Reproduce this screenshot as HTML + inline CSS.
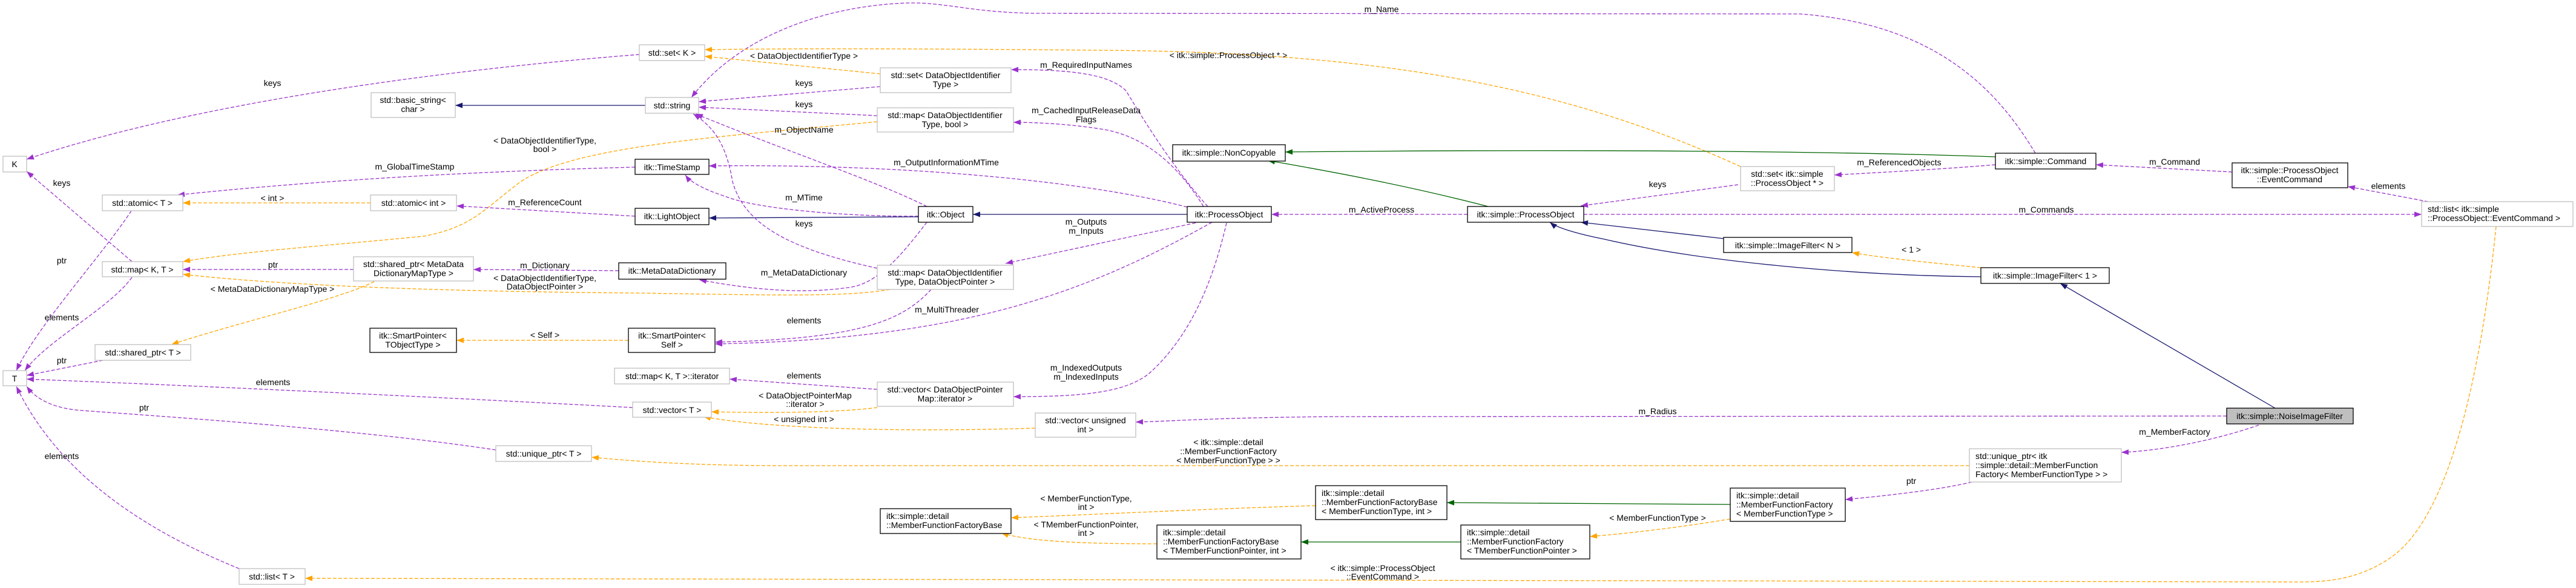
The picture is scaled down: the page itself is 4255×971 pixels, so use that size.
<!DOCTYPE html>
<html><head><meta charset="utf-8">
<style>
html,body{margin:0;padding:0;background:#fff;}
svg{display:block;}
text{font-family:"Liberation Sans",Helvetica,Arial,sans-serif;font-size:14px;fill:#000;}
.lbl{text-anchor:middle;}
.c{text-anchor:middle;}
.nb{fill:#fff;stroke:#000;stroke-width:1.3;}
.ng{fill:#fff;stroke:#bfbfbf;stroke-width:1.3;}
.p{fill:none;stroke:#9a32cd;stroke-width:1.3;stroke-dasharray:6,3;}
.o{fill:none;stroke:#ffa500;stroke-width:1.3;stroke-dasharray:6,3;}
.n{fill:none;stroke:#191970;stroke-width:1.3;}
.g{fill:none;stroke:#006400;stroke-width:1.3;}
</style></head><body>
<svg width="4255" height="971" viewBox="0 0 4255 971" xmlns="http://www.w3.org/2000/svg">
<defs>
<marker id="mp" viewBox="0 0 12 10" refX="12" refY="5" markerWidth="12" markerHeight="10" markerUnits="userSpaceOnUse" orient="auto"><path d="M0,0.5 L12,5 L0,9.5z" fill="#9a32cd"/></marker>
<marker id="mo" viewBox="0 0 12 10" refX="12" refY="5" markerWidth="12" markerHeight="10" markerUnits="userSpaceOnUse" orient="auto"><path d="M0,0.5 L12,5 L0,9.5z" fill="#ffa500"/></marker>
<marker id="mn" viewBox="0 0 12 10" refX="12" refY="5" markerWidth="12" markerHeight="10" markerUnits="userSpaceOnUse" orient="auto"><path d="M0,0.5 L12,5 L0,9.5z" fill="#191970"/></marker>
<marker id="mg" viewBox="0 0 12 10" refX="12" refY="5" markerWidth="12" markerHeight="10" markerUnits="userSpaceOnUse" orient="auto"><path d="M0,0.5 L12,5 L0,9.5z" fill="#006400"/></marker>
</defs>

<!-- edges -->
<path class="p" marker-end="url(#mp)" d="M1056,90 C800,110 350,160 44,263"/>
<path class="p" marker-end="url(#mp)" d="M3362,253 C3300,150 3200,40 2973,23 L1708,22 C1600,20 1560,3 1497,5 C1360,10 1220,60 1142,161"/>
<path class="n" marker-end="url(#mn)" d="M1066,174 L752,174"/>
<path class="o" marker-end="url(#mo)" d="M1454,122 L1164,93"/>
<path class="o" marker-end="url(#mo)" d="M2875,275 C2600,150 2300,85 1811,83 C1500,80 1300,80 1164,82"/>
<path class="p" marker-end="url(#mp)" d="M1454,143 L1154,168"/>
<path class="p" marker-end="url(#mp)" d="M1449,191 L1154,177"/>
<path class="o" marker-end="url(#mo)" d="M1449,201 C1200,225 950,240 860,300 C800,345 780,375 700,390 C550,405 400,415 302,432"/>
<path class="p" marker-end="url(#mp)" d="M1995,341 C1940,280 1890,200 1860,150 C1830,120 1760,115 1670,115"/>
<path class="p" marker-end="url(#mp)" d="M1988,341 C1950,280 1900,230 1830,215 C1780,206 1720,202 1674,202"/>
<path class="p" marker-end="url(#mp)" d="M1961,342 C1800,300 1500,270 1171,274"/>
<path class="p" marker-end="url(#mp)" d="M1531,341 C1450,300 1300,250 1149,188"/>
<path class="p" marker-end="url(#mp)" d="M1517,357 C1400,358 1250,345 1200,325 C1160,312 1140,300 1132,289"/>
<path class="n" marker-end="url(#mn)" d="M1517,358 L1171,360"/>
<path class="n" marker-end="url(#mn)" d="M1961,354 L1607,354"/>
<path class="p" marker-end="url(#mp)" d="M1449,443 C1300,410 1230,370 1210,300 C1200,240 1180,210 1145,188"/>
<path class="p" marker-end="url(#mp)" d="M1531,367 C1490,420 1450,470 1400,475 C1330,485 1250,480 1155,462"/>
<path class="o" marker-end="url(#mo)" d="M1470,478 C1400,490 1300,488 1060,484 C800,482 500,475 302,453"/>
<path class="p" marker-end="url(#mp)" d="M1975,368 L1661,435"/>
<path class="p" marker-end="url(#mp)" d="M1049,357 L754,340"/>
<path class="o" marker-end="url(#mo)" d="M612,335 L302,335"/>
<path class="p" marker-end="url(#mp)" d="M1049,276 C900,280 600,290 293,322"/>
<path class="p" marker-end="url(#mp)" d="M1022,447 L782,445"/>
<path class="p" marker-end="url(#mp)" d="M584,445 L302,445"/>
<path class="o" marker-end="url(#mo)" d="M618,465 C560,495 400,530 283,569"/>
<path class="p" marker-end="url(#mp)" d="M218,432 L44,283"/>
<path class="p" marker-end="url(#mp)" d="M218,458 C180,510 80,560 41,612"/>
<path class="p" marker-end="url(#mp)" d="M217,348 C170,420 60,540 27,612"/>
<path class="p" marker-end="url(#mp)" d="M170,595 L44,620"/>
<path class="p" marker-end="url(#mp)" d="M1045,673 C800,660 400,640 44,626"/>
<path class="p" marker-end="url(#mp)" d="M819,743 C600,710 300,690 137,678 C90,675 60,660 44,638"/>
<path class="p" marker-end="url(#mp)" d="M395,939 C250,880 100,790 27,638"/>
<path class="o" marker-end="url(#mo)" d="M1038,562 L754,562"/>
<path class="p" marker-end="url(#mp)" d="M1538,478 C1490,530 1420,560 1181,565"/>
<path class="p" marker-end="url(#mp)" d="M2002,367 C1800,480 1600,560 1181,568"/>
<path class="p" marker-end="url(#mp)" d="M1449,643 L1205,626"/>
<path class="o" marker-end="url(#mo)" d="M1449,673 C1380,682 1260,682 1175,680"/>
<path class="o" marker-end="url(#mo)" d="M1710,707 C1450,715 1250,705 1162,688"/>
<path class="p" marker-end="url(#mp)" d="M2026,368 C2000,480 1960,560 1900,615 C1860,650 1780,655 1674,655"/>
<path class="p" marker-end="url(#mp)" d="M3678,687 L2200,688 C2000,690 1950,695 1876,697"/>
<path class="o" marker-end="url(#mo)" d="M3253,769 L1300,769 C1150,769 1050,762 977,755"/>
<path class="p" marker-end="url(#mp)" d="M3731,702 C3650,730 3560,745 3504,747"/>
<path class="p" marker-end="url(#mp)" d="M3257,796 C3200,810 3100,820 3048,825"/>
<path class="g" marker-end="url(#mg)" d="M2858,833 L2390,830"/>
<path class="o" marker-end="url(#mo)" d="M2173,835 C2000,840 1800,850 1670,855"/>
<path class="o" marker-end="url(#mo)" d="M1911,898 C1800,898 1700,895 1654,880"/>
<path class="g" marker-end="url(#mg)" d="M2413,895 L2149,895"/>
<path class="o" marker-end="url(#mo)" d="M2858,857 C2780,870 2700,880 2626,886"/>
<path class="o" marker-end="url(#mo)" d="M4123,374 C4100,600 4050,850 3950,920 C3900,955 3850,961 3799,961 L504,955"/>
<path class="p" marker-end="url(#mp)" d="M2616,354 L4000,354"/>
<path class="p" marker-end="url(#mp)" d="M3687,284 L3462,272"/>
<path class="p" marker-end="url(#mp)" d="M4011,333 L3878,308"/>
<path class="p" marker-end="url(#mp)" d="M3296,272 C3200,280 3100,285 3030,289"/>
<path class="p" marker-end="url(#mp)" d="M2871,305 L2611,340"/>
<path class="g" marker-end="url(#mg)" d="M3296,259 C3100,252 2700,245 2123,251"/>
<path class="g" marker-end="url(#mg)" d="M2458,341 C2300,300 2150,275 2094,265"/>
<path class="p" marker-end="url(#mp)" d="M2424,354 L2100,354"/>
<path class="n" marker-end="url(#mn)" d="M2847,394 L2611,367"/>
<path class="n" marker-end="url(#mn)" d="M3272,457 C3050,455 2800,430 2650,395 C2600,385 2570,375 2560,367"/>
<path class="o" marker-end="url(#mo)" d="M3272,442 C3200,435 3100,425 3059,417"/>
<path class="n" marker-end="url(#mn)" d="M3758,674 L3403,468"/>

<!-- edge labels -->
<g class="lbl">
<text class="c" x="450" y="142">keys</text>
<text class="c" x="2282" y="20">m_Name</text>
<text class="c" x="102" y="307">keys</text>
<text class="c" x="900" y="237">&lt; DataObjectIdentifierType,</text>
<text class="c" x="900" y="251">bool &gt;</text>
<text class="c" x="685" y="280">m_GlobalTimeStamp</text>
<text class="c" x="450" y="332">&lt; int &gt;</text>
<text class="c" x="900" y="339">m_ReferenceCount</text>
<text class="c" x="451" y="442">ptr</text>
<text class="c" x="102" y="435">ptr</text>
<text class="c" x="900" y="443">m_Dictionary</text>
<text class="c" x="900" y="464">&lt; DataObjectIdentifierType,</text>
<text class="c" x="900" y="478">DataObjectPointer &gt;</text>
<text class="c" x="450" y="482">&lt; MetaDataDictionaryMapType &gt;</text>
<text class="c" x="102" y="529">elements</text>
<text class="c" x="900" y="558">&lt; Self &gt;</text>
<text class="c" x="102" y="600">ptr</text>
<text class="c" x="451" y="636">elements</text>
<text class="c" x="238" y="678">ptr</text>
<text class="c" x="102" y="758">elements</text>
<text class="c" x="1328" y="97">&lt; DataObjectIdentifierType &gt;</text>
<text class="c" x="1794" y="112">m_RequiredInputNames</text>
<text class="c" x="1328" y="142">keys</text>
<text class="c" x="1328" y="177">keys</text>
<text class="c" x="1794" y="187">m_CachedInputReleaseData</text>
<text class="c" x="1794" y="202">Flags</text>
<text class="c" x="1328" y="219">m_ObjectName</text>
<text class="c" x="1563" y="273">m_OutputInformationMTime</text>
<text class="c" x="1328" y="331">m_MTime</text>
<text class="c" x="1328" y="374">keys</text>
<text class="c" x="1794" y="371">m_Outputs</text>
<text class="c" x="1794" y="386">m_Inputs</text>
<text class="c" x="1328" y="455">m_MetaDataDictionary</text>
<text class="c" x="1564" y="516">m_MultiThreader</text>
<text class="c" x="1328" y="534">elements</text>
<text class="c" x="1328" y="625">elements</text>
<text class="c" x="1330" y="658">&lt; DataObjectPointerMap</text>
<text class="c" x="1330" y="672">::iterator &gt;</text>
<text class="c" x="1328" y="697">&lt; unsigned int &gt;</text>
<text class="c" x="1794" y="612">m_IndexedOutputs</text>
<text class="c" x="1794" y="627">m_IndexedInputs</text>
<text class="c" x="2029" y="735">&lt; itk::simple::detail</text>
<text class="c" x="2029" y="750">::MemberFunctionFactory</text>
<text class="c" x="2029" y="765">&lt; MemberFunctionType &gt; &gt;</text>
<text class="c" x="1794" y="828">&lt; MemberFunctionType,</text>
<text class="c" x="1794" y="842">int &gt;</text>
<text class="c" x="1794" y="871">&lt; TMemberFunctionPointer,</text>
<text class="c" x="1794" y="885">int &gt;</text>
<text class="c" x="2029" y="96">&lt; itk::simple::ProcessObject * &gt;</text>
<text class="c" x="3137" y="273">m_ReferencedObjects</text>
<text class="c" x="2738" y="309">keys</text>
<text class="c" x="2282" y="351">m_ActiveProcess</text>
<text class="c" x="3157" y="417">&lt; 1 &gt;</text>
<text class="c" x="2738" y="684">m_Radius</text>
<text class="c" x="3157" y="799">ptr</text>
<text class="c" x="2738" y="860">&lt; MemberFunctionType &gt;</text>
<text class="c" x="2284" y="943">&lt; itk::simple::ProcessObject</text>
<text class="c" x="2284" y="957">::EventCommand &gt;</text>
<text class="c" x="3592" y="272">m_Command</text>
<text class="c" x="3945" y="312">elements</text>
<text class="c" x="3380" y="351">m_Commands</text>
<text class="c" x="3592" y="718">m_MemberFactory</text>
</g>

<!-- nodes: gray-border -->
<rect class="ng" x="1056" y="74" width="108" height="26"/><text class="c" x="1110" y="92">std::set&lt; K &gt;</text>
<rect class="ng" x="613" y="153" width="139" height="41"/><text class="c" x="682" y="170">std::basic_string&lt;</text><text class="c" x="682" y="185">char &gt;</text>
<rect class="ng" x="5" y="258" width="39" height="26"/><text class="c" x="24" y="276">K</text>
<rect class="ng" x="169" y="322" width="133" height="26"/><text class="c" x="235" y="340">std::atomic&lt; T &gt;</text>
<rect class="ng" x="612" y="322" width="142" height="26"/><text class="c" x="683" y="340">std::atomic&lt; int &gt;</text>
<rect class="ng" x="169" y="432" width="133" height="25"/><text class="c" x="235" y="450">std::map&lt; K, T &gt;</text>
<rect class="ng" x="584" y="424" width="198" height="40"/><text class="c" x="683" y="441">std::shared_ptr&lt; MetaData</text><text class="c" x="683" y="456">DictionaryMapType &gt;</text>
<rect class="ng" x="157" y="569" width="158" height="26"/><text class="c" x="236" y="587">std::shared_ptr&lt; T &gt;</text>
<rect class="ng" x="5" y="612" width="39" height="25"/><text class="c" x="24" y="630">T</text>
<rect class="ng" x="1015" y="608" width="190" height="26"/><text class="c" x="1110" y="626">std::map&lt; K, T &gt;::iterator</text>
<rect class="ng" x="1045" y="664" width="130" height="25"/><text class="c" x="1110" y="682">std::vector&lt; T &gt;</text>
<rect class="ng" x="819" y="736" width="158" height="26"/><text class="c" x="898" y="754">std::unique_ptr&lt; T &gt;</text>
<rect class="ng" x="395" y="939" width="109" height="26"/><text class="c" x="449" y="957">std::list&lt; T &gt;</text>
<rect class="ng" x="1454" y="112" width="216" height="41"/><text class="c" x="1562" y="129">std::set&lt; DataObjectIdentifier</text><text class="c" x="1562" y="144">Type &gt;</text>
<rect class="ng" x="1066" y="161" width="88" height="26"/><text class="c" x="1110" y="179">std::string</text>
<rect class="ng" x="1449" y="178" width="225" height="40"/><text class="c" x="1561" y="195">std::map&lt; DataObjectIdentifier</text><text class="c" x="1561" y="210">Type, bool &gt;</text>
<rect class="ng" x="1449" y="438" width="225" height="40"/><text class="c" x="1561" y="455">std::map&lt; DataObjectIdentifier</text><text class="c" x="1561" y="470">Type, DataObjectPointer &gt;</text>
<rect class="ng" x="1449" y="631" width="225" height="40"/><text class="c" x="1561" y="648">std::vector&lt; DataObjectPointer</text><text class="c" x="1561" y="663">Map::iterator &gt;</text>
<rect class="ng" x="1710" y="682" width="166" height="40"/><text class="c" x="1793" y="699">std::vector&lt; unsigned</text><text class="c" x="1793" y="714">int &gt;</text>
<rect class="ng" x="2875" y="275" width="155" height="40"/><text class="c" x="2952" y="292">std::set&lt; itk::simple</text><text class="c" x="2952" y="307">::ProcessObject * &gt;</text>
<rect class="ng" x="4000" y="333" width="250" height="41"/><text x="4010" y="350">std::list&lt; itk::simple</text><text x="4010" y="365">::ProcessObject::EventCommand &gt;</text>
<rect class="ng" x="3253" y="741" width="251" height="55"/><text x="3263" y="758">std::unique_ptr&lt; itk</text><text x="3263" y="773">::simple::detail::MemberFunction</text><text x="3263" y="788">Factory&lt; MemberFunctionType &gt; &gt;</text>

<!-- nodes: black-border -->
<rect class="nb" x="1049" y="263" width="122" height="25"/><text class="c" x="1110" y="281">itk::TimeStamp</text>
<rect class="nb" x="1049" y="344" width="122" height="27"/><text class="c" x="1110" y="362">itk::LightObject</text>
<rect class="nb" x="1022" y="434" width="177" height="27"/><text class="c" x="1110" y="452">itk::MetaDataDictionary</text>
<rect class="nb" x="611" y="542" width="143" height="40"/><text class="c" x="682" y="559">itk::SmartPointer&lt;</text><text class="c" x="682" y="574">TObjectType &gt;</text>
<rect class="nb" x="1038" y="542" width="143" height="40"/><text class="c" x="1110" y="559">itk::SmartPointer&lt;</text><text class="c" x="1110" y="574">Self &gt;</text>
<rect class="nb" x="1937" y="239" width="186" height="27"/><text class="c" x="2030" y="257">itk::simple::NonCopyable</text>
<rect class="nb" x="1517" y="341" width="90" height="26"/><text class="c" x="1562" y="359">itk::Object</text>
<rect class="nb" x="1961" y="341" width="139" height="26"/><text class="c" x="2030" y="359">itk::ProcessObject</text>
<rect class="nb" x="1454" y="840" width="216" height="41"/><text x="1464" y="857">itk::simple::detail</text><text x="1464" y="872">::MemberFunctionFactoryBase</text>
<rect class="nb" x="1911" y="867" width="238" height="56"/><text x="1921" y="884">itk::simple::detail</text><text x="1921" y="899">::MemberFunctionFactoryBase</text><text x="1921" y="914">&lt; TMemberFunctionPointer, int &gt;</text>
<rect class="nb" x="2424" y="341" width="192" height="26"/><text class="c" x="2520" y="359">itk::simple::ProcessObject</text>
<rect class="nb" x="2847" y="392" width="212" height="25"/><text class="c" x="2953" y="410">itk::simple::ImageFilter&lt; N &gt;</text>
<rect class="nb" x="2173" y="802" width="217" height="56"/><text x="2183" y="819">itk::simple::detail</text><text x="2183" y="834">::MemberFunctionFactoryBase</text><text x="2183" y="849">&lt; MemberFunctionType, int &gt;</text>
<rect class="nb" x="2858" y="806" width="190" height="55"/><text x="2868" y="823">itk::simple::detail</text><text x="2868" y="838">::MemberFunctionFactory</text><text x="2868" y="853">&lt; MemberFunctionType &gt;</text>
<rect class="nb" x="2413" y="867" width="213" height="56"/><text x="2423" y="884">itk::simple::detail</text><text x="2423" y="899">::MemberFunctionFactory</text><text x="2423" y="914">&lt; TMemberFunctionPointer &gt;</text>
<rect class="nb" x="3296" y="253" width="166" height="26"/><text class="c" x="3379" y="271">itk::simple::Command</text>
<rect class="nb" x="3687" y="269" width="191" height="41"/><text class="c" x="3782" y="286">itk::simple::ProcessObject</text><text class="c" x="3782" y="301">::EventCommand</text>
<rect class="nb" x="3272" y="442" width="212" height="26"/><text class="c" x="3378" y="460">itk::simple::ImageFilter&lt; 1 &gt;</text>
<rect x="3678" y="674" width="209" height="26" fill="#bfbfbf" stroke="#000" stroke-width="1.3"/><text class="c" x="3782" y="692">itk::simple::NoiseImageFilter</text>
</svg>
</body></html>
